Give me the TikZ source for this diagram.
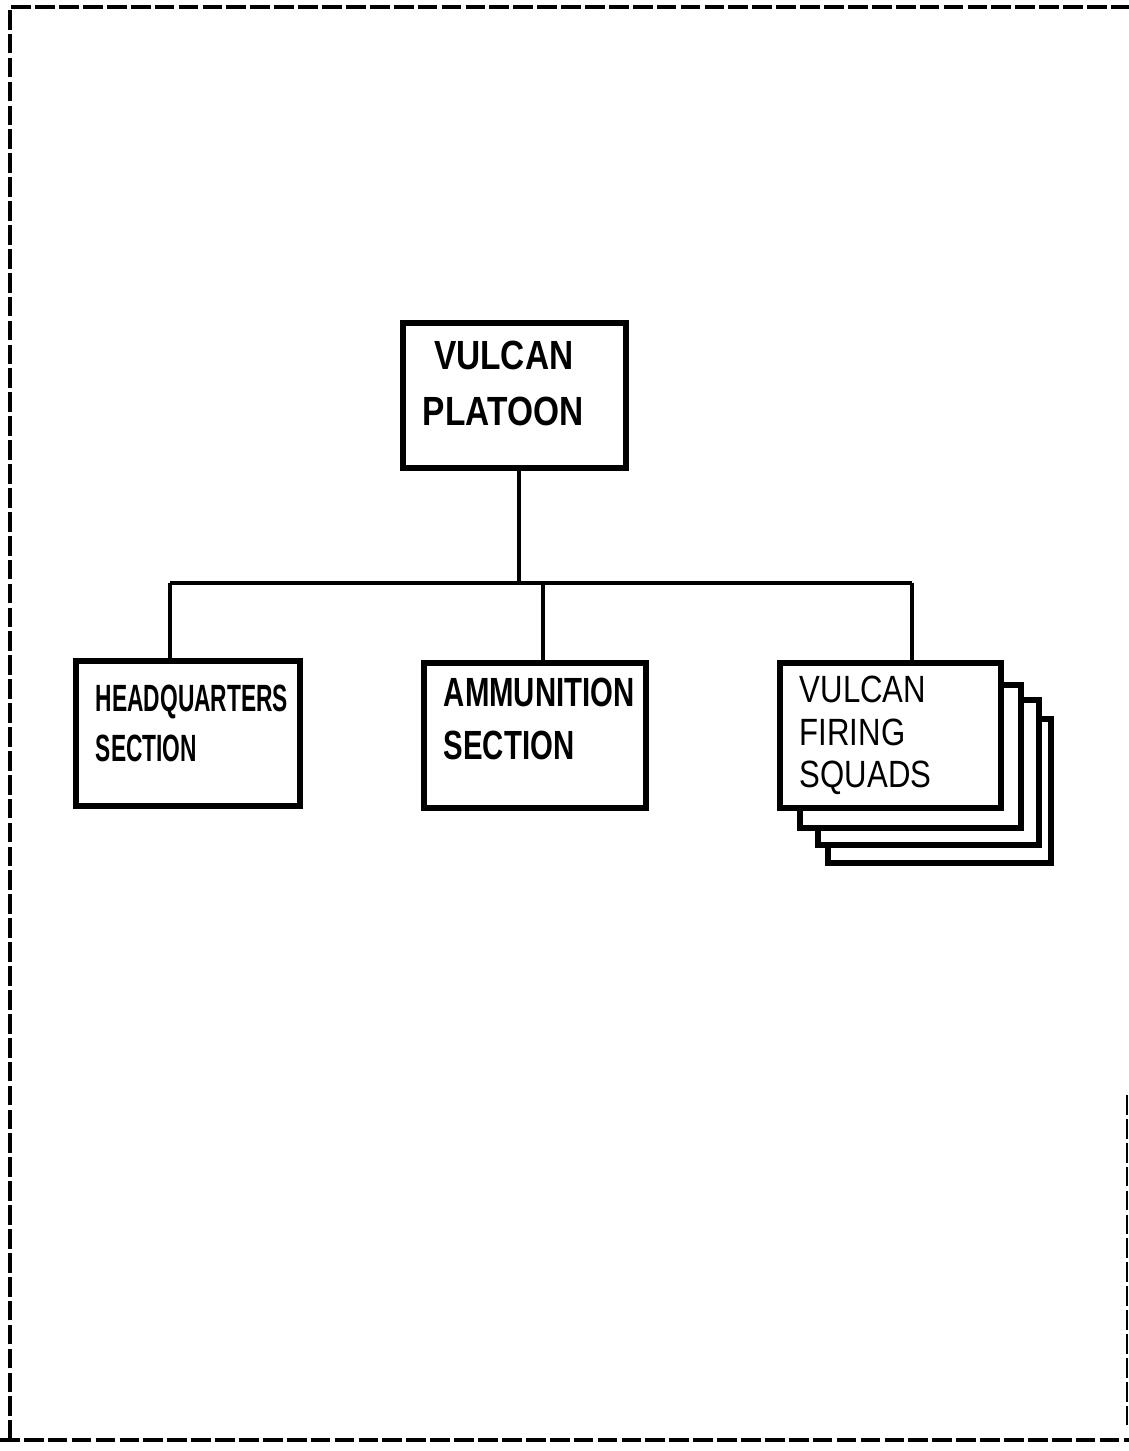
\documentclass[tikz,border=0pt]{standalone}
\usepackage{fontspec}
\newfontfamily\handfont[FakeStretch=0.82]{Liberation Sans}
\newfontfamily\handmid[FakeStretch=0.72]{Liberation Sans}
\newfontfamily\handnarrow[FakeStretch=0.6]{Liberation Sans}
\newcommand\lift[1]{\par\vskip#1\hrule height0pt width0pt}
\begin{document}
\begin{tikzpicture}[x=0.025cm, y=-0.025cm,
  unit/.style={draw, line width=4pt, fill=white, anchor=north west, inner xsep=0.5cm,
    align=left, minimum height=3.625cm, font=\handfont\bfseries\fontsize{26pt}{38pt}\selectfont},
  link/.style={line width=3.5pt},
  frame/.style={line width=3.4pt, dash pattern=on 14pt off 3pt}]
\useasboundingbox (0,0) rectangle (1129,1451);

% border of the sheet
\draw[frame] (10,1440) -- (10,7) -- (1129,7);
\draw[frame] (0,1440) -- (1129,1440);
\draw[frame, line width=1.6pt] (1127,1095) -- (1127,1428);

% boxes
\node[unit, text width=4.575cm, font=\handfont\bfseries\fontsize{29pt}{40pt}\selectfont] (platoon) at (400,320)
  {\hspace*{8pt}VULCAN\\PLATOON\lift{17pt}};
\node[unit, text width=4.6cm, font=\handnarrow\bfseries\fontsize{27pt}{36pt}\selectfont] (hq) at (73,658)
  {HEADQUARTERS\\SECTION\lift{14pt}};
\node[unit, text width=4.55cm, font=\handmid\bfseries\fontsize{29pt}{38pt}\selectfont] (ammo) at (421,660)
  {AMMUNITION\\SECTION\lift{23pt}};
\node[unit, text width=4.575cm, minimum height=3.6cm] (sq3) at (825,716) {};
\node[unit, text width=4.525cm, minimum height=3.625cm] (sq2) at (815,697) {};
\node[unit, text width=4.525cm, minimum height=3.575cm] (sq1) at (797,682) {};
\node[unit, text width=4.525cm, font=\handfont\fontsize{27pt}{30pt}\selectfont] (squads) at (777,660)
  {VULCAN\\FIRING\\SQUADS};

% lines
\coordinate (jp) at (519,583);
\coordinate (jh) at (170,583);
\coordinate (ja) at (543,583);
\coordinate (js) at (912,583);
\draw[link] (jp |- platoon.south) -- (jp);
\draw[link] (jh) -- (js);
\draw[link] (jh) -- (jh |- hq.north);
\draw[link] (ja) -- (ja |- ammo.north);
\draw[link] (js) -- (js |- squads.north);
\end{tikzpicture}
\end{document}
